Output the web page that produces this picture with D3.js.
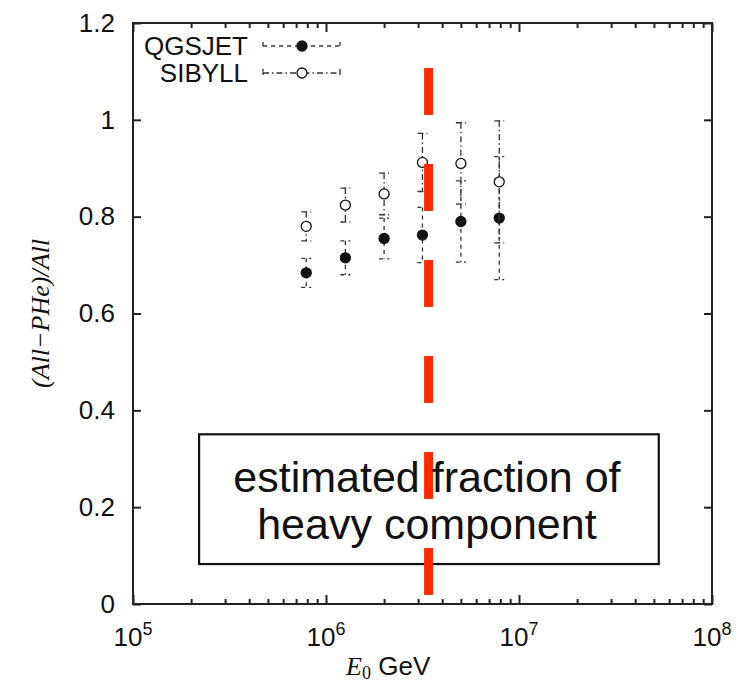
<!DOCTYPE html>
<html>
<head>
<meta charset="utf-8">
<script src="https://cdn.jsdelivr.net/npm/d3@7"></script>
<style>
  body { margin: 0; background: #fff; }
  svg { display: block; }
  text { font-family: "Liberation Sans", Arial, Helvetica, sans-serif; fill: #111; }
</style>
</head>
<body>
<svg id="chart" width="739" height="685"></svg>
<script>
/* data */
var energies  = [7.9e5, 1.26e6, 2.0e6, 3.16e6, 5.0e6, 7.9e6];   // GeV
var qgsjet    = [0.684, 0.715, 0.755, 0.762, 0.790, 0.797];
var qgsjetErr = [0.030, 0.035, 0.042, 0.057, 0.084, 0.127];
var sibyll    = [0.780, 0.824, 0.847, 0.912, 0.910, 0.872];
var sibyllErr = [0.030, 0.035, 0.043, 0.060, 0.084, 0.126];

var yTicks      = [0, 0.2, 0.4, 0.6, 0.8, 1, 1.2];
var yTickLabels = ["0", "0.2", "0.4", "0.6", "0.8", "1", "1.2"];
var xTickExp    = [5, 6, 7, 8];

var kneeEnergy = 3.4e6;            // red dashed marker
var kneeRange  = [0.018, 1.107];
var boxX       = [2.2e5, 5.3e7];   // annotation box, data space
var boxY       = [0.0825, 0.3505];
var boxLines   = ["estimated fraction of", "heavy component"];

var seriesNames = ["QGSJET", "SIBYLL"];

//** layout **//
var margin = {top: 23, right: 27, bottom: 81, left: 133},
    width = 739 - margin.left - margin.right,
    height = 685 - margin.top - margin.bottom;

var svg = d3.select("#chart");
var g = svg.append("g")
    .attr("transform", "translate(" + margin.left + "," + margin.top + ")");

var x = d3.scaleLog().domain([1e5, 1e8]).range([0, width]);
var y = d3.scaleLinear().domain([0, 1.2]).range([height, 0]);

var ink = "#222";

//* axes: ticks on all four sides, pointing inward *//
var majors = xTickExp.map(function(e) { return Math.pow(10, e); });
var minors = x.ticks().filter(function(v) {
  return Math.abs(Math.log10(v) - Math.round(Math.log10(v))) > 1e-6;
});

function styleAxis(sel) {
  sel.select(".domain").remove();
  sel.selectAll("line").attr("stroke", ink).attr("stroke-width", 2);
}

g.append("g").attr("transform", "translate(0," + height + ")")
  .call(d3.axisBottom(x).tickValues(majors).tickSize(-9).tickFormat(""))
  .call(styleAxis);
g.append("g").attr("transform", "translate(0," + height + ")")
  .call(d3.axisBottom(x).tickValues(minors).tickSize(-5).tickFormat(""))
  .call(styleAxis);
g.append("g")
  .call(d3.axisTop(x).tickValues(majors).tickSize(-9).tickFormat(""))
  .call(styleAxis);
g.append("g")
  .call(d3.axisTop(x).tickValues(minors).tickSize(-5).tickFormat(""))
  .call(styleAxis);

var yAxis = g.append("g")
  .call(d3.axisLeft(y).tickValues(yTicks).tickSize(-8).tickPadding(18)
    .tickFormat(function(d, i) { return yTickLabels[i]; }))
  .call(styleAxis);
yAxis.selectAll("text").attr("font-size", "26px").attr("fill", "#111")
  .style("font-family", "'Liberation Sans', Arial, sans-serif");

g.append("g").attr("transform", "translate(" + width + ",0)")
  .call(d3.axisRight(y).tickValues(yTicks).tickSize(-8).tickFormat(""))
  .call(styleAxis);

// x tick labels 10^n
var xl = g.append("g").selectAll("text")
  .data(xTickExp)
  .enter().append("text")
  .attr("x", function(d) { return x(Math.pow(10, d)); })
  .attr("y", height + 42)
  .attr("text-anchor", "middle")
  .attr("font-size", "26px");
xl.append("tspan").text("10");
xl.append("tspan").attr("dy", -11).attr("font-size", "18px").text(function(d) { return d; });

// frame
g.append("rect")
  .attr("width", width).attr("height", height)
  .attr("fill", "none").attr("stroke", ink).attr("stroke-width", 2);

//* axis titles *//
svg.append("text")
  .attr("transform", "translate(49," + (margin.top + y(0.6)) + ") rotate(-90)")
  .attr("text-anchor", "middle")
  .style("font-family", "'Liberation Serif', 'Times New Roman', serif")
  .style("font-style", "italic")
  .attr("font-size", "26px")
  .text("(All\u2212PHe)/All");

var xt = svg.append("text")
  .attr("x", margin.left + x(2.1e6))
  .attr("y", 675)
  .attr("text-anchor", "middle")
  .attr("font-size", "26px");
xt.append("tspan").style("font-family", "'Liberation Serif', 'Times New Roman', serif")
  .style("font-style", "italic").text("E");
xt.append("tspan").attr("dy", 4).attr("font-size", "18px")
  .style("font-family", "'Liberation Serif', 'Times New Roman', serif").text("0");
xt.append("tspan").attr("dy", -4).text(" GeV");

//* error bars + points *//
var series = [
  {name: seriesNames[0], vals: qgsjet, errs: qgsjetErr, dash: "4,4", filled: true},
  {name: seriesNames[1], vals: sibyll, errs: sibyllErr, dash: "6,3,1.5,3", filled: false}
];

var capW = 5, markR = 5;

series.forEach(function(s) {
  var pts = energies.map(function(e, i) {
    return {e: e, v: s.vals[i], lo: s.vals[i] - s.errs[i], hi: s.vals[i] + s.errs[i]};
  });
  var sg = g.append("g");
  var bars = sg.selectAll("g.bar").data(pts).enter().append("g").attr("class", "bar");
  bars.append("line")
    .attr("x1", function(d) { return x(d.e); }).attr("x2", function(d) { return x(d.e); })
    .attr("y1", function(d) { return y(d.hi); }).attr("y2", function(d) { return y(d.lo); });
  bars.append("line")
    .attr("x1", function(d) { return x(d.e) - capW; }).attr("x2", function(d) { return x(d.e) + capW; })
    .attr("y1", function(d) { return y(d.hi); }).attr("y2", function(d) { return y(d.hi); });
  bars.append("line")
    .attr("x1", function(d) { return x(d.e) - capW; }).attr("x2", function(d) { return x(d.e) + capW; })
    .attr("y1", function(d) { return y(d.lo); }).attr("y2", function(d) { return y(d.lo); });
  bars.selectAll("line")
    .attr("stroke", "#333").attr("stroke-width", 1.3).attr("stroke-dasharray", s.dash);
  sg.selectAll("circle").data(pts).enter().append("circle")
    .attr("cx", function(d) { return x(d.e); })
    .attr("cy", function(d) { return y(d.v); })
    .attr("r", markR)
    .attr("fill", s.filled ? "#111" : "#fff")
    .attr("stroke", "#111").attr("stroke-width", 1.3);
});

//* legend *//
var legend = g.append("g");
series.forEach(function(s, i) {
  var ly = 23 + i * 27, lx0 = 130, lx1 = 207, lxm = 169;
  legend.append("text")
    .attr("x", 115).attr("y", ly).attr("dy", "0.36em")
    .attr("text-anchor", "end").attr("font-size", "26px").text(s.name);
  legend.append("line").attr("x1", lx0).attr("x2", lx1).attr("y1", ly).attr("y2", ly);
  legend.append("line").attr("x1", lx0).attr("x2", lx0).attr("y1", ly - 4).attr("y2", ly + 4);
  legend.append("line").attr("x1", lx1).attr("x2", lx1).attr("y1", ly - 4).attr("y2", ly + 4);
  legend.selectAll("line").filter(function() { return !this.getAttribute("stroke"); })
    .attr("stroke", "#333").attr("stroke-width", 1.3).attr("stroke-dasharray", s.dash);
  legend.append("circle").attr("cx", lxm).attr("cy", ly).attr("r", markR)
    .attr("fill", s.filled ? "#111" : "#fff").attr("stroke", "#111").attr("stroke-width", 1.3);
});

//* annotation box and knee marker *//
g.append("rect")
  .attr("x", x(boxX[0])).attr("y", y(boxY[1]))
  .attr("width", x(boxX[1]) - x(boxX[0]))
  .attr("height", y(boxY[0]) - y(boxY[1]))
  .attr("fill", "#fff").attr("stroke", "#111").attr("stroke-width", 2.2);

g.append("line")
  .attr("x1", x(kneeEnergy)).attr("x2", x(kneeEnergy))
  .attr("y1", y(kneeRange[1])).attr("y2", y(kneeRange[0]))
  .attr("stroke", "#ff2a00").attr("stroke-width", 9)
  .attr("stroke-dasharray", "47,49");

var bx = (x(boxX[0]) + x(boxX[1])) / 2;
boxLines.forEach(function(t, i) {
  g.append("text")
    .attr("x", bx - 2).attr("y", 469 + i * 47)
    .attr("text-anchor", "middle").attr("font-size", "43px")
    .text(t);
});
</script>
</body>
</html>
